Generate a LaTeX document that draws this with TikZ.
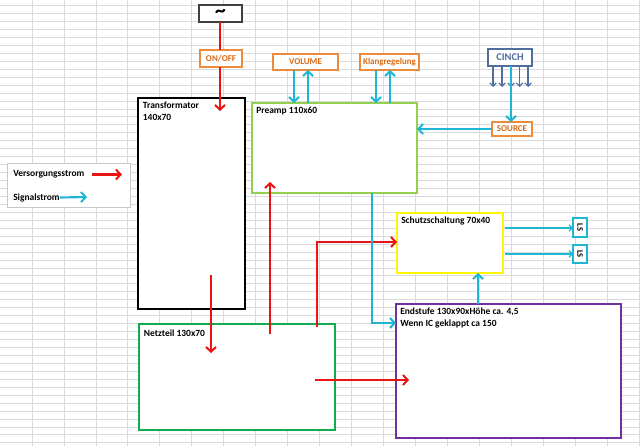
\documentclass[tikz,border=0pt]{standalone}
\usepackage{fontspec}
\setmainfont{Carlito}
\usetikzlibrary{arrows.meta}
\definecolor{pwred}{RGB}{235,20,20}
\definecolor{sigcyan}{RGB}{30,182,212}
\definecolor{boxorange}{RGB}{235,140,60}
\definecolor{txtorange}{RGB}{215,105,20}
\definecolor{slate}{RGB}{80,110,155}
\definecolor{preampgreen}{RGB}{146,208,80}
\definecolor{netzgreen}{RGB}{20,170,80}
\definecolor{schutzyellow}{RGB}{255,245,0}
\definecolor{endpurple}{RGB}{112,48,160}
\definecolor{gridgray}{RGB}{218,218,218}
\definecolor{legendgray}{RGB}{200,200,200}
\tikzset{
  box/.style={draw, fill=white, minimum width=#1, inner sep=0pt, outer sep=0pt},
  lbl/.style={anchor=north west, inner sep=1pt, align=left, font=\fontsize{7.1}{8.7}\selectfont\bfseries},
  obox/.style={draw=boxorange, line width=0.9pt, fill=white, inner sep=0pt, outer sep=0pt,
     text=txtorange, font=\fontsize{6.7}{7}\selectfont\bfseries},
  pw/.style={draw=pwred, line width=1.6pt, -{Straight Barb[length=3.5pt,width=7.5pt,line width=1.5pt]}},
  pwline/.style={draw=pwred, line width=1.6pt},
  sig/.style={draw=sigcyan, line width=1.6pt, -{Straight Barb[length=3.5pt,width=7.5pt,line width=1.5pt]}},
  sigline/.style={draw=sigcyan, line width=1.6pt},
  sigthin/.style={draw=sigcyan, line width=0.8pt, -{Straight Barb[length=2.5pt,width=5pt,line width=0.8pt]}},
  cin/.style={draw=slate, line width=0.8pt, -{Straight Barb[length=2.5pt,width=5pt,line width=0.8pt]}},
}
\begin{document}
\begin{tikzpicture}[x=0.75pt,y=-0.75pt]
\useasboundingbox (0,0) rectangle (640,446);
\fill[white] (0,0) rectangle (640,446);
% spreadsheet grid
\foreach \i in {1,...,20} {\draw[gridgray, line width=0.5pt] ({\i*31.95},0) -- ({\i*31.95},446);}
\foreach \j in {0,...,55} {\draw[gridgray, line width=0.5pt] (0,{5.5+\j*7.95}) -- (640,{5.5+\j*7.95});}

% main boxes
\node[box=107*0.75pt, minimum height=211*0.75pt, draw=black, line width=1.9pt] (trafo) at (191.5,203.5) {};
\node[lbl] (trafoT) at (trafo.north west) [xshift=2.5pt,yshift=-2pt] {Transformator\\140x70};
\node[box=196*0.75pt, minimum height=106*0.75pt, draw=netzgreen, line width=1.6pt] (netz) at (237,377) {};
\node[lbl] (netzT) at (netz.north west) [xshift=2.5pt,yshift=-3pt] {Netzteil 130x70};
\node[box=165*0.75pt, minimum height=90*0.75pt, draw=preampgreen, line width=1.6pt] (pre) at (334.5,148) {};
\node[lbl] (preT) at (pre.north west) [xshift=2pt,yshift=-2pt] {Preamp 110x60};
\node[box=106*0.75pt, minimum height=60*0.75pt, draw=schutzyellow, line width=2.2pt] (schutz) at (450,243) {};
\node[lbl] (schutzT) at (schutz.north west) [xshift=2pt,yshift=-2pt] {Schutzschaltung 70x40};
\node[box=225*0.75pt, minimum height=134*0.75pt, draw=endpurple, line width=1.9pt] (endst) at (508.5,371) {};
\node[lbl] (endT) at (endst.north west) [xshift=2pt,yshift=-2pt] {Endstufe 130x90xHöhe ca. 4,5\\Wenn IC geklappt ca 150};

% small boxes
\node[box=43*0.75pt, minimum height=17*0.75pt, draw=black!75, line width=1pt] (tilde) at (220.5,13.5) {\fontsize{16}{16}\selectfont\bfseries\raisebox{-3pt}{\textasciitilde}};
\node[obox, minimum width=42*0.75pt, minimum height=17*0.75pt] (onoff) at (221,58.5) {ON/OFF};
\node[obox, minimum width=65*0.75pt, minimum height=16*0.75pt] (vol) at (305.5,62) {VOLUME};
\node[obox, minimum width=59*0.75pt, minimum height=16*0.75pt] (klang) at (389.5,62) {Klangregelung};
\node[obox, minimum width=40*0.75pt, minimum height=14*0.75pt] (source) at (512,129) {SOURCE};
\node[box=44*0.75pt, minimum height=17*0.75pt, draw=slate, line width=0.9pt, text=slate, font=\fontsize{7.8}{8}\selectfont\bfseries] (cinch) at (510,57.5) {CINCH};
\node[box=19*0.75pt, minimum height=14*0.75pt, draw=sigcyan, line width=0.9pt, rotate=-90, font=\fontsize{6.3}{6}\selectfont\bfseries] (ls1) at (580,227.5) {LS};
\node[box=18*0.75pt, minimum height=14*0.75pt, draw=sigcyan, line width=0.9pt, rotate=-90, font=\fontsize{6.3}{6}\selectfont\bfseries] (ls2) at (580,254) {LS};

% legend
\node[box=123*0.75pt, minimum height=44*0.75pt, draw=legendgray, line width=0.7pt] (legend) at (69,185) {};
\node[anchor=west, inner sep=0pt, font=\fontsize{7.1}{8}\selectfont\bfseries] (lv) at (13,174.5) {Versorgungsstrom};
\node[anchor=west, inner sep=0pt, font=\fontsize{7.1}{8}\selectfont\bfseries] (ls) at (13,197.5) {Signalstrom};
\coordinate (lvstart) at (92,174.5);
\coordinate (lvend) at (122,174.5);
\coordinate (lsend) at (87,197);
\draw[pw] (lvstart) -- (lvend);
\draw[sig] (ls.east) -- (lsend);

% power connectors
\coordinate (t1) at (220,111);
\draw[pwline] (tilde.south -| t1) -- (onoff.north -| t1);
\draw[pw] (onoff.south -| t1) -- (t1);
\coordinate (t2a) at (211,275);
\coordinate (t2b) at (211,353);
\draw[pw] (t2a) -- (t2b);
\coordinate (n1) at (270,334);
\coordinate (n1e) at (270,182);
\draw[pw] (n1) -- (n1e);
\coordinate (n2) at (317,327);
\coordinate (n2k) at (317,242);
\draw[pw] (n2) -- (n2k) -- (schutz.west |- n2k);
\coordinate (n3) at (315,380);
\coordinate (n3e) at (409,380);
\draw[pw] (n3) -- (n3e);

% signal connectors
\coordinate (v1) at (294,0); \coordinate (v2) at (308,0);
\coordinate (k1) at (376,0); \coordinate (k2) at (390,0);
\draw[sig] (vol.south -| v1) -- (pre.north -| v1);
\draw[sig] (pre.north -| v2) -- (vol.south -| v2);
\draw[sig] (klang.south -| k1) -- (pre.north -| k1);
\draw[sig] (pre.north -| k2) -- (klang.south -| k2);
\foreach \cx [count=\c] in {493,502,511,519.5,528} {
  \coordinate (cs\c) at (\cx,87);
  \draw[cin] (cinch.south -| cs\c) -- (cs\c);
}
\coordinate (cm) at (511,0);
\draw[sig] (cinch.south -| cm) -- (source.north -| cm);
\draw[sig] (source.west) -- (pre.east |- source.west);
\coordinate (p1) at (372,323);
\draw[sig] (pre.south -| p1) -- (p1) -- (endst.west |- p1);
\coordinate (e1) at (478,0);
\draw[sig] (endst.north -| e1) -- (schutz.south -| e1);
\coordinate (s1) at (505,228); \coordinate (s2) at (505,254);
\draw[sigthin] (s1) -- (ls1.south |- s1);
\draw[sigthin] (s2) -- (ls2.south |- s2);
\end{tikzpicture}
\end{document}
